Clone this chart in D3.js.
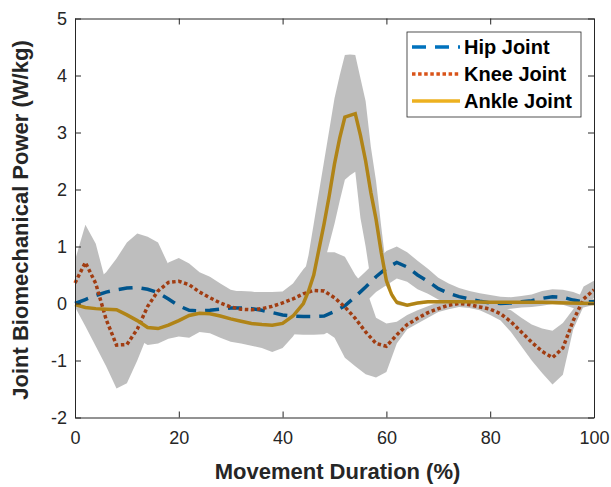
<!DOCTYPE html>
<meta charset="utf-8">
<script src="https://d3js.org/d3.v7.min.js"></script>
<style>
  body { margin: 0; background: #fff; }
  text { font-family: "Liberation Sans", Arial, sans-serif; }
</style>
<div id="my_dataviz"></div>

<script>
    // movement duration (%) for hip and knee
    const pct = [0,2,4,6,8,10,12,14,16,18,20,22,24,26,28,30,32,34,36,38,40,42,44,46,48,50,
                 52,54,56,58,60,62,64,66,68,70,72,74,76,78,80,82,84,86,88,90,92,94,96,98,100];

    const hipMean  = [0.00,0.07,0.14,0.20,0.24,0.27,0.28,0.25,0.19,0.08,-0.04,-0.12,-0.13,-0.12,-0.10,-0.08,-0.08,-0.09,-0.12,-0.16,-0.20,-0.22,-0.23,-0.23,-0.22,-0.14,
                      -0.04,0.12,0.29,0.47,0.62,0.72,0.64,0.50,0.39,0.26,0.18,0.12,0.08,0.04,0.01,0.00,0.01,0.03,0.05,0.09,0.12,0.11,0.06,0.03,0.03];
    const hipLower = [-0.05,-0.08,-0.11,-0.15,-0.31,-0.53,-0.67,-0.67,-0.69,-0.52,-0.39,-0.42,-0.43,-0.42,-0.40,-0.38,-0.38,-0.39,-0.42,-0.46,-0.50,-0.54,-0.55,-0.55,-0.54,-0.44,
                      -0.32,-0.15,0.02,0.20,0.32,0.44,0.38,0.25,0.17,0.07,0.01,-0.03,-0.06,-0.10,-0.13,-0.12,-0.09,-0.07,-0.06,-0.04,-0.01,-0.02,-0.08,-0.07,-0.02];
    const hipUpper = [0.05,0.22,0.39,0.55,0.79,1.07,1.23,1.17,1.07,0.68,0.31,0.18,0.17,0.18,0.20,0.22,0.22,0.21,0.18,0.14,0.10,0.10,0.09,0.09,0.10,0.16,
                      0.24,0.39,0.56,0.74,0.92,1.00,0.90,0.75,0.61,0.45,0.35,0.27,0.22,0.18,0.15,0.12,0.11,0.13,0.16,0.22,0.25,0.24,0.20,0.13,0.08];

    const kneeMean  = [0.36,0.72,0.35,-0.28,-0.73,-0.72,-0.45,-0.05,0.22,0.37,0.39,0.33,0.20,0.10,0.01,-0.06,-0.10,-0.11,-0.09,-0.05,0.01,0.08,0.17,0.23,0.22,0.10,
                       -0.06,-0.26,-0.50,-0.70,-0.75,-0.55,-0.37,-0.26,-0.16,-0.09,-0.03,0.00,-0.02,-0.06,-0.10,-0.18,-0.32,-0.50,-0.68,-0.84,-0.95,-0.78,-0.30,0.08,0.24];
    const kneeLower = [-0.06,-0.40,-0.75,-1.10,-1.49,-1.40,-1.00,-0.55,-0.25,-0.05,0.00,-0.05,-0.15,-0.25,-0.30,-0.35,-0.40,-0.40,-0.40,-0.35,-0.30,-0.25,-0.25,-0.30,-0.48,-0.60,
                       -0.95,-1.10,-1.24,-1.30,-1.20,-0.70,-0.45,-0.35,-0.25,-0.15,-0.10,-0.06,-0.08,-0.12,-0.20,-0.30,-0.50,-0.75,-1.00,-1.22,-1.42,-1.25,-0.45,-0.05,0.10];
    const kneeUpper = [0.76,1.38,1.05,0.35,-0.20,-0.30,-0.10,0.20,0.50,0.72,0.80,0.70,0.55,0.47,0.35,0.24,0.20,0.20,0.20,0.20,0.21,0.35,0.60,0.80,0.90,0.90,
                       0.82,0.50,0.28,-0.25,-0.35,-0.32,-0.20,-0.12,-0.05,0.02,0.06,0.08,0.06,0.02,-0.02,-0.06,-0.12,-0.25,-0.37,-0.44,-0.48,-0.34,-0.10,0.30,0.40];

    // ankle has a finer grid around the push-off peak
    const ankleX = [0,2,4,6,8,10,12,14,16,18,20,22,24,26,28,30,32,34,36,38,40,42,44,45,46,47,48,49,50,
                    51,52,53,54,55,56,57,58,59,60,61,62,64,66,68,70,75,80,85,90,95,100];
    const ankleMean  = [-0.02,-0.07,-0.09,-0.10,-0.11,-0.20,-0.30,-0.42,-0.44,-0.38,-0.30,-0.21,-0.17,-0.18,-0.22,-0.27,-0.31,-0.35,-0.37,-0.38,-0.35,-0.22,0.00,0.22,0.50,0.95,1.40,1.90,2.45,
                        2.90,3.27,3.30,3.33,2.95,2.50,1.95,1.48,0.90,0.40,0.16,0.02,-0.03,0.01,0.03,0.03,0.03,0.02,0.02,0.02,0.01,0.00];
    const ankleLower = [-0.06,-0.20,-0.30,-0.35,-0.40,-0.50,-0.62,-0.73,-0.70,-0.62,-0.58,-0.60,-0.50,-0.52,-0.60,-0.67,-0.70,-0.74,-0.78,-0.85,-0.78,-0.58,-0.30,-0.20,-0.05,0.30,0.70,1.05,1.40,
                        1.80,2.17,2.25,2.31,1.50,1.00,0.40,0.25,0.40,0.30,0.10,-0.02,-0.06,-0.02,0.00,0.00,0.00,-0.01,-0.01,-0.01,-0.02,-0.03];
    const ankleUpper = [0.05,0.05,0.05,0.10,0.15,0.10,0.00,-0.10,-0.15,-0.10,-0.02,0.10,0.15,0.15,0.10,0.10,0.05,0.00,0.00,0.00,0.05,0.20,0.45,0.85,1.40,1.95,2.50,3.05,3.60,
                        4.00,4.36,4.37,4.36,3.95,3.55,2.75,2.15,1.35,0.60,0.22,0.06,0.00,0.04,0.06,0.06,0.06,0.05,0.05,0.05,0.04,0.03];

    const xTicks = [0,20,40,60,80,100];
    const yTicks = [-2,-1,0,1,2,3,4,5];
    const joints = ["Hip Joint", "Knee Joint", "Ankle Joint"];

    // set dimensions + margins of graph
    const margin = {top: 18.5, left: 75, right: 17, bottom: 69.5};
    const width = 611 - margin.left - margin.right, height = 487 - margin.top - margin.bottom;

    const svg = d3.select("#my_dataviz")
        .append("svg")
            .attr("width", 611)
            .attr("height", 487)
        .append("g")
            .attr("transform", "translate(" + margin.left + "," + margin.top + ")");

    const x = d3.scaleLinear().domain([0, 100]).range([0, width]);
    const y = d3.scaleLinear().domain([-2, 5]).range([height, 0]);

    // build series rows
    const series = [
        {name: joints[0], xs: pct, mean: hipMean, lo: hipLower, hi: hipUpper, color: "#0072BD", dash: "14,9"},
        {name: joints[1], xs: pct, mean: kneeMean, lo: kneeLower, hi: kneeUpper, color: "#D95319", dash: "3.5,2.6"},
        {name: joints[2], xs: ankleX, mean: ankleMean, lo: ankleLower, hi: ankleUpper, color: "#EDB120", dash: null}
    ];
    series.forEach(function(s) {
        s.rows = s.xs.map(function(v, i) { return {x: v, m: s.mean[i], lo: s.lo[i], hi: s.hi[i]}; });
    });

    const line = d3.line().x(function(d) { return x(d.x); }).y(function(d) { return y(d.m); });
    const area = d3.area().x(function(d) { return x(d.x); })
        .y0(function(d) { return y(d.lo); }).y1(function(d) { return y(d.hi); });

    // mean lines first
    series.forEach(function(s) {
        svg.append("path")
            .datum(s.rows)
            .attr("d", line)
            .attr("fill", "none")
            .attr("stroke", s.color)
            .attr("stroke-width", 3.5)
            .attr("stroke-dasharray", s.dash);
    });

    // shaded sd bands, grouped so overlaps don't get darker
    const bands = svg.append("g").attr("opacity", 0.25);
    series.forEach(function(s) {
        bands.append("path")
            .datum(s.rows)
            .attr("d", area)
            .attr("fill", "#000");
    });

    // axes (ticks pointing inwards, box on)
    const axisColor = "#262626";
    const fmt = function(d) { return String(d); };
    const gx = svg.append("g")
        .attr("transform", "translate(0," + height + ")")
        .call(d3.axisBottom(x).tickValues(xTicks).tickFormat(fmt).tickSize(-6).tickSizeOuter(0).tickPadding(14));
    const gy = svg.append("g")
        .call(d3.axisLeft(y).tickValues(yTicks).tickFormat(fmt).tickSize(-6).tickSizeOuter(0).tickPadding(8));
    const gt = svg.append("g")
        .call(d3.axisTop(x).tickValues(xTicks).tickSize(-6).tickSizeOuter(0).tickFormat(""));
    const gr = svg.append("g")
        .attr("transform", "translate(" + width + ",0)")
        .call(d3.axisRight(y).tickValues(yTicks).tickSize(-6).tickSizeOuter(0).tickFormat(""));

    [gx, gy, gt, gr].forEach(function(g) {
        g.select(".domain").attr("stroke", axisColor).attr("stroke-width", 1);
        g.selectAll(".tick line").attr("stroke", axisColor).attr("stroke-width", 1);
        g.selectAll(".tick text")
            .attr("fill", axisColor)
            .style("font-size", "18px")
            .style("font-family", "'Liberation Sans', Arial, sans-serif");
    });

    // axis titles
    svg.append("text")
        .attr("x", width / 2 + 3)
        .attr("y", height + 61)
        .attr("text-anchor", "middle")
        .attr("fill", axisColor)
        .style("font-size", "22px")
        .style("font-weight", "bold")
        .text("Movement Duration (%)");

    svg.append("text")
        .attr("transform", "translate(" + (-47) + "," + (height / 2 + 2) + ") rotate(-90)")
        .attr("text-anchor", "middle")
        .attr("fill", axisColor)
        .style("font-size", "22px")
        .style("font-weight", "bold")
        .text("Joint Biomechanical Power (W/kg)");

    // legend
    const legend = svg.append("g").attr("transform", "translate(" + (407 - margin.left) + "," + (32 - margin.top) + ")");
    legend.append("rect")
        .attr("width", 174)
        .attr("height", 85)
        .attr("fill", "#fff")
        .attr("stroke", axisColor)
        .attr("stroke-width", 0.8);

    series.forEach(function(s, i) {
        const ly = 15 + i * 27;
        legend.append("line")
            .attr("x1", 5).attr("x2", 53)
            .attr("y1", ly).attr("y2", ly)
            .attr("stroke", s.color)
            .attr("stroke-width", 3.5)
            .attr("stroke-dasharray", s.dash);
        legend.append("text")
            .attr("x", 57)
            .attr("y", ly + 7)
            .attr("fill", "#000")
            .style("font-size", "20px")
            .style("font-weight", "bold")
            .text(s.name);
    });
</script>
